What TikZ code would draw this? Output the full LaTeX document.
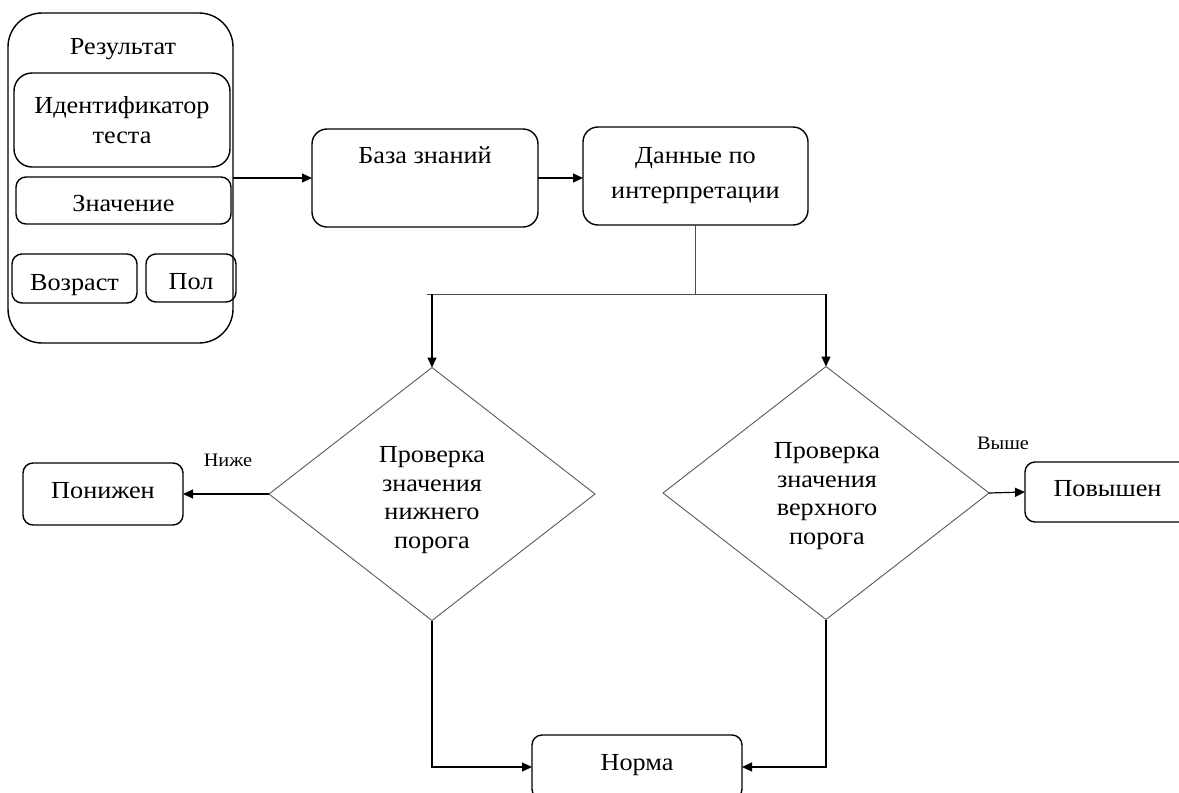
\documentclass[tikz,border=0pt]{standalone}
\usepackage{fontspec}
\setmainfont{Liberation Serif}[FakeStretch=1.07]
\usetikzlibrary{shapes.geometric,arrows.meta}
\begin{document}
\begin{tikzpicture}[x=1pt,y=-1pt,
  box/.style={draw=black, line width=1.4pt, rounded corners=#1, inner sep=0pt,
    outer sep=0pt, align=center, font=\fontsize{24.5}{30}\selectfont},
  box/.default=10pt,
  txt/.style={inner sep=0pt, align=center, font=\fontsize{24.5}{28.5}\selectfont},
  decision/.style={diamond, draw=black!65, line width=0.9pt, minimum width=326pt,
    minimum height=253pt, inner sep=0pt, outer sep=0pt},
  arrow/.style={-{Triangle[length=10pt,width=9pt]}, line width=1.2pt, draw=black},
  link/.style={draw=black!70, line width=1pt},
  branch/.style={inner sep=0pt, font=\fontsize{19}{22}\selectfont}]

\useasboundingbox (0,0) rectangle (1179,793);
\clip (0,0) rectangle (1179,793);

% result record with its fields
\node[box=34pt, minimum width=225pt, minimum height=330pt] (res) at (120.5,178) {};
\node[txt] (restitle) at (123,49) {Результат};
\node[box=18pt, minimum width=216pt, minimum height=94pt] (ident) at (122,120) {Идентификатор\\теста};
\node[box, minimum width=215pt, minimum height=47pt, text height=23pt, text depth=2pt]
  (znach) at (123.5,200.5) {Значение};
\node[box, minimum width=125pt, minimum height=49pt, text height=26pt, text depth=2pt]
  (vozr) at (74.5,278.5) {Возраст};
\node[box, minimum width=90pt, minimum height=48pt, text height=25pt, text depth=2pt]
  (pol) at (191,278) {Пол};

% knowledge base and interpretation data
\node[box=15pt, minimum width=226pt, minimum height=98pt,
  font=\fontsize{24.5}{35}\selectfont] (baza) at (425,178) {База знаний\\\strut};
\node[box=15pt, minimum width=225pt, minimum height=98pt,
  font=\fontsize{24.5}{35}\selectfont] (dannye) at (695.5,176) {Данные по\\интерпретации};

% threshold checks
\node[decision] (dlow) at (432,494) {};
\node[txt] (dlowtext) at (432,500) {Проверка\\значения\\нижнего\\порога};
\node[decision] (dhigh) at (826,493) {};
\node[txt] (dhightext) at (827,496) {Проверка\\значения\\верхного\\порога};

% outcomes
\node[box, minimum width=160pt, minimum height=62pt, text height=12pt, text depth=4pt]
  (ponizh) at (103,494) {Понижен};
\node[box, minimum width=165pt, minimum height=60pt, text height=12pt, text depth=4pt]
  (povysh) at (1107.5,492) {Повышен};
\node[box, minimum width=210pt, minimum height=64pt, text height=11pt, text depth=5pt]
  (norma) at (637,767) {Норма};

\node[branch] (lowlabel) at (228,460) {Ниже};
\node[branch] (highlabel) at (1003,443) {Выше};

% connectors
\coordinate (hl) at (427,294);
\coordinate (hr) at (827,294);
\draw[arrow] (res.east) -- (baza.west);
\draw[arrow] (baza.east) -- (baza.east -| dannye.west);
\draw[link] (dannye.south) -- (dannye.south |- hl);
\draw[link] (hl) -- (hr);
\draw[arrow] (dlow.north |- hl) -- (dlow.north);
\draw[arrow] (dhigh.north |- hr) -- (dhigh.north);
\draw[arrow] (dlow.west) -- (ponizh.east);
\draw[arrow] (dhigh.east) -- (povysh.west);
\draw[arrow] (dlow.south) |- (norma.west);
\draw[arrow] (dhigh.south) |- (norma.east);
\end{tikzpicture}
\end{document}
